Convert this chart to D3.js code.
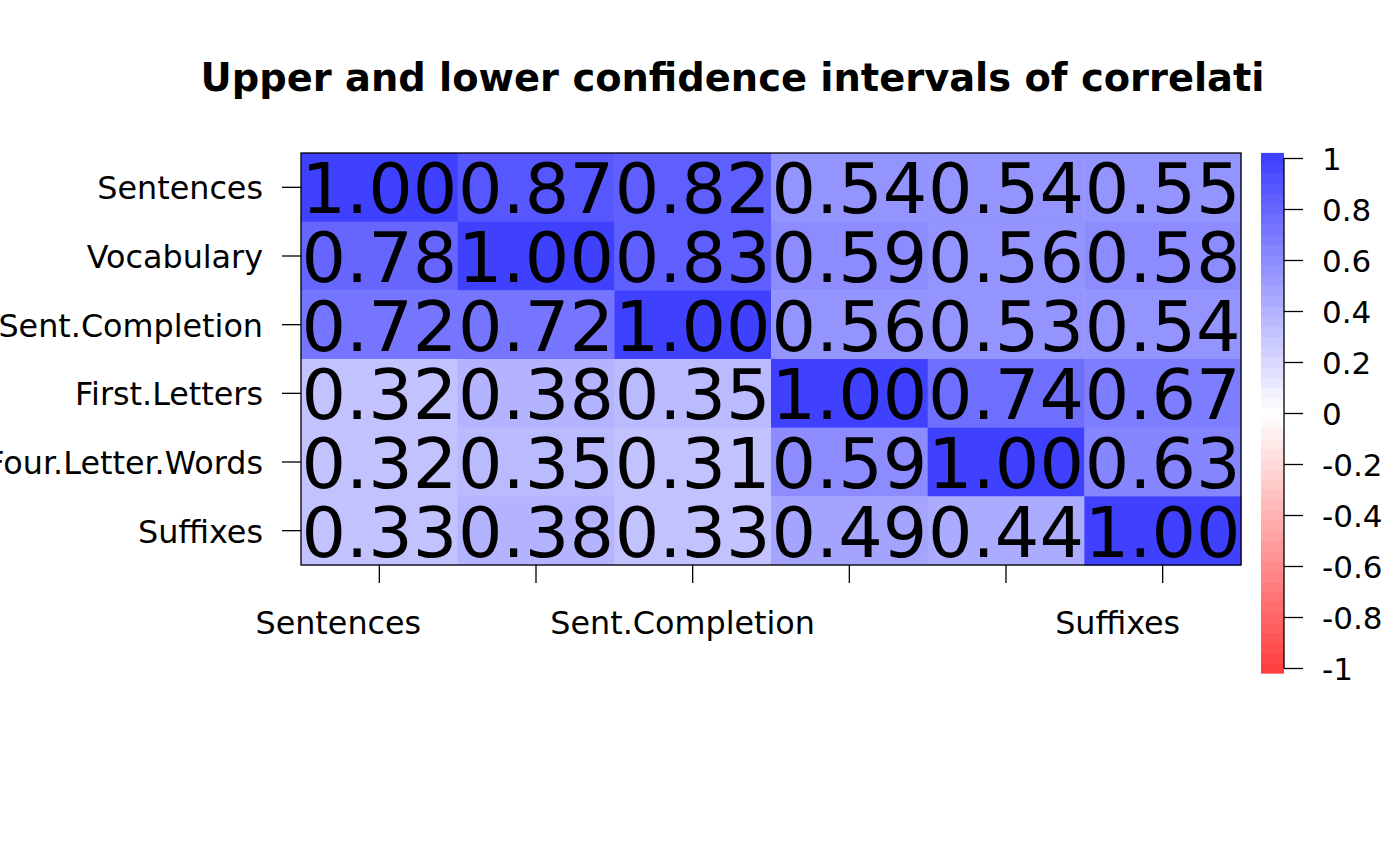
<!DOCTYPE html>
<html>
<head>
<meta charset="utf-8">
<script src="https://cdn.jsdelivr.net/npm/d3@7"></script>
<style>
html,body{margin:0;padding:0;background:#fff;}
svg{display:block;}
text{font-family:"DejaVu Sans",sans-serif;}
</style>
</head>
<body>
<svg id="chart" width="1400" height="866"></svg>
<script>
// ---- data ----
const variables = ["Sentences","Vocabulary","Sent.Completion","First.Letters","Four.Letter.Words","Suffixes"];
const rowSentences       = [1.00,0.87,0.82,0.54,0.54,0.55];
const rowVocabulary      = [0.78,1.00,0.83,0.59,0.56,0.58];
const rowSentCompletion  = [0.72,0.72,1.00,0.56,0.53,0.54];
const rowFirstLetters    = [0.32,0.38,0.35,1.00,0.74,0.67];
const rowFourLetterWords = [0.32,0.35,0.31,0.59,1.00,0.63];
const rowSuffixes        = [0.33,0.38,0.33,0.49,0.44,1.00];
const xLabelsShown = ["Sentences","Sent.Completion","Suffixes"];
const legendTicks = [1,0.8,0.6,0.4,0.2,0,-0.2,-0.4,-0.6,-0.8,-1];
const titleText = "Upper and lower confidence intervals of correlati";

const matrix = [rowSentences,rowVocabulary,rowSentCompletion,rowFirstLetters,rowFourLetterWords,rowSuffixes];

// ---- layout ----
const plot = {x0:301, x1:1241, y0:153, y1:565};
const nCol = 51, alpha = 0.75;
const ramp = d3.scaleLinear().domain([0,0.5,1]).range(["red","white","blue"]).interpolate(d3.interpolateRgb);
function binColor(k){
  const c = d3.rgb(ramp(k/(nCol-1)));
  const f = v => Math.round(255 - alpha*(255 - v));
  return d3.rgb(f(c.r),f(c.g),f(c.b)).formatHex();
}
function valColor(v){
  let k = Math.floor((v + 1) / (2/nCol));
  k = Math.max(0, Math.min(nCol-1, k));
  return binColor(k);
}

const svg = d3.select("#chart");
const x = d3.scaleBand().domain(variables).range([plot.x0, plot.x1]);
const y = d3.scaleBand().domain(variables).range([plot.y0, plot.y1]);

const cells = [];
matrix.forEach((row,i)=>row.forEach((v,j)=>cells.push({r:variables[i], c:variables[j], v})));

svg.append("g").selectAll("rect").data(cells).join("rect")
  .attr("x", d=>x(d.c)).attr("y", d=>y(d.r))
  .attr("width", x.bandwidth()+0.5).attr("height", y.bandwidth()+0.5)
  .attr("fill", d=>valColor(d.v));

svg.append("g").selectAll("text").data(cells).join("text")
  .attr("x", d=>x(d.c)+x.bandwidth()/2)
  .attr("y", d=>y(d.r)+y.bandwidth()/2 + 26)
  .attr("text-anchor","middle")
  .attr("font-size", 70)
  .attr("fill","#000")
  .text(d=>d.v.toFixed(2));

svg.append("rect").attr("x",plot.x0).attr("y",plot.y0)
  .attr("width",plot.x1-plot.x0).attr("height",plot.y1-plot.y0)
  .attr("fill","none").attr("stroke","#000").attr("stroke-width",1.3);

// y axis
const yAxis = d3.axisLeft(y).tickSize(19).tickPadding(19);
const gy = svg.append("g").attr("transform",`translate(${plot.x0},0)`).call(yAxis);
gy.select(".domain").remove();
gy.selectAll("line").attr("stroke","#000").attr("stroke-width",1.3);
gy.selectAll("text").attr("font-size",31.8).attr("font-family","DejaVu Sans").attr("fill","#000")
  .attr("dy","0.38em");

// x axis
const xAxis = d3.axisBottom(x).tickSize(18).tickFormat("");
const gx = svg.append("g").attr("transform",`translate(0,${plot.y1})`).call(xAxis);
gx.select(".domain").remove();
gx.selectAll("line").attr("stroke","#000").attr("stroke-width",1.3);
const xLabelShift = {"Sentences":-41, "Sent.Completion":-10, "Suffixes":-45};
svg.append("g").selectAll("text").data(xLabelsShown).join("text")
  .attr("x", d=>x(d)+x.bandwidth()/2 + xLabelShift[d])
  .attr("y", 634)
  .attr("text-anchor","middle")
  .attr("font-size",31.8)
  .text(d=>d);

// legend
const leg = {x0:1261, x1:1284};
const ly = d3.scaleLinear().domain([-1,1]).range([668,158]);
const bins = d3.range(nCol);
const binH = (ly(-1)-ly(1))/(nCol-1);
svg.append("g").selectAll("rect").data(bins).join("rect")
  .attr("x",leg.x0).attr("width",leg.x1-leg.x0)
  .attr("y", k=>ly(-1 + k*2/(nCol-1)) - binH/2)
  .attr("height", binH+0.6)
  .attr("fill", k=>binColor(k));
const lAxis = d3.axisRight(ly).tickValues(legendTicks).tickSize(19).tickPadding(19);
const gl = svg.append("g").attr("transform",`translate(${leg.x1},0)`).call(lAxis);
gl.select(".domain").attr("d",`M0,${ly(-1)}V${ly(1)}`).attr("stroke","#000").attr("stroke-width",1.3);
gl.selectAll("line").attr("stroke","#000").attr("stroke-width",1.3);
gl.selectAll("text").attr("font-size",31).attr("font-family","DejaVu Sans").attr("fill","#000")
  .attr("dy","0.38em")
  .text(d=> d<0 ? "-" + String(Math.abs(d)) : String(d));

// title
svg.append("text").attr("x",732.5).attr("y",91).attr("text-anchor","middle")
  .attr("font-size",38.4).attr("font-weight","bold").text(titleText);
</script>
</body>
</html>
